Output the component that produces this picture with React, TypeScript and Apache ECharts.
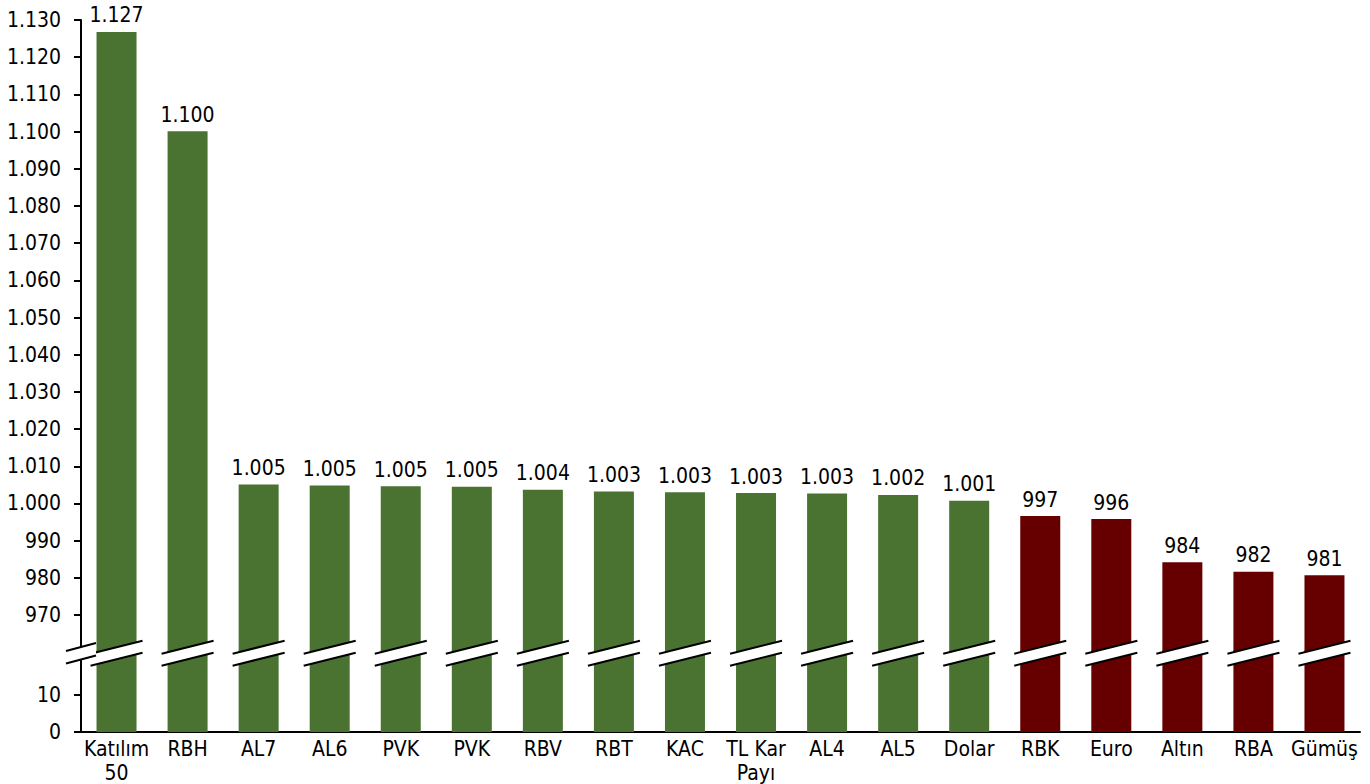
import React, { useEffect, useRef } from "react";
import * as echarts from "echarts";

const categories = [
  "Katılım\n50", "RBH", "AL7", "AL6", "PVK", "PVK", "RBV", "RBT", "KAC",
  "TL Kar\nPayı", "AL4", "AL5", "Dolar", "RBK", "Euro", "Altın", "RBA", "Gümüş",
];
const values = [
  1126.8, 1100.1, 1005.1, 1004.8, 1004.6, 1004.5, 1003.7, 1003.2, 1003.0,
  1002.8, 1002.7, 1002.3, 1000.7, 996.6, 995.8, 984.2, 981.6, 980.7,
];
// upper segment of the broken axis
const upperMin = 960;
const upperMax = 1130;
// lower segment of the broken axis
const lowerMin = 0;
const lowerMax = 22;
const lowerLabelMax = 10;
const tickStep = 10;

const GREEN = "#4a7332";
const RED = "#660000";
const FONT = "'DejaVu Sans Condensed', 'DejaVu Sans', sans-serif";
const FS = 21;

const fmt = (v: number) => {
  const n = Math.round(v);
  if (n >= 1000) {
    return Math.floor(n / 1000) + "." + String(n % 1000).padStart(3, "0");
  }
  return String(n);
};

export default function App() {
  const ref = useRef<HTMLDivElement>(null);
  useEffect(() => {
    document.body.style.margin = "0";
    if (!ref.current) return;
    const chart = echarts.init(ref.current, null, { renderer: "svg" });
    const barData = values.map((v) => ({
      value: v,
      itemStyle: { color: v >= 1000 ? GREEN : RED },
    }));
    const axisLine = { show: true, lineStyle: { color: "#000", width: 2 } };
    const mark = (x: number, cy: number, w: number, h: number, gap: number) => [
      {
        type: "polygon",
        shape: {
          points: [
            [x - w, cy - gap + h],
            [x + w, cy - gap - h],
            [x + w, cy + gap - h],
            [x - w, cy + gap + h],
          ],
        },
        style: { fill: "#fff" },
      },
      {
        type: "line",
        shape: { x1: x - w, y1: cy - gap + h, x2: x + w, y2: cy - gap - h },
        style: { stroke: "#000", lineWidth: 2 },
      },
      {
        type: "line",
        shape: { x1: x - w, y1: cy + gap + h, x2: x + w, y2: cy + gap - h },
        style: { stroke: "#000", lineWidth: 2 },
      },
    ];
    chart.setOption({
      animation: false,
      textStyle: { fontFamily: FONT },
      grid: [
        { left: 81, right: 10, top: 20, bottom: 131.8, outerBoundsMode: "none" },
        { left: 81, right: 10, top: 650.2, bottom: 52, outerBoundsMode: "none" },
      ],
      xAxis: [
        {
          type: "category",
          gridIndex: 0,
          data: categories,
          show: false,
        },
        {
          type: "category",
          gridIndex: 1,
          data: categories,
          axisLine: axisLine,
          axisTick: { show: false },
          axisLabel: {
            color: "#000",
            fontSize: FS,
            lineHeight: 24,
            margin: 5,
            interval: 0,
            fontFamily: FONT,
          },
        },
      ],
      yAxis: [
        {
          type: "value",
          gridIndex: 0,
          min: upperMin,
          max: upperMax,
          interval: tickStep,
          axisLine: axisLine,
          axisTick: { show: true, length: 7, lineStyle: { color: "#000", width: 2 } },
          splitLine: { show: false },
          axisLabel: {
            color: "#000",
            fontSize: FS,
            margin: 20,
            fontFamily: FONT,
            formatter: (v: number) => (v === upperMin ? "" : fmt(v)),
          },
        },
        {
          type: "value",
          gridIndex: 1,
          min: lowerMin,
          max: lowerMax,
          interval: tickStep,
          axisLine: axisLine,
          axisTick: { show: true, length: 7, lineStyle: { color: "#000", width: 2 } },
          splitLine: { show: false },
          axisLabel: {
            color: "#000",
            fontSize: FS,
            margin: 20,
            fontFamily: FONT,
            formatter: (v: number) => (v <= lowerLabelMax ? fmt(v) : ""),
          },
        },
      ],
      series: [
        {
          type: "bar",
          xAxisIndex: 0,
          yAxisIndex: 0,
          data: barData,
          barWidth: 40,
          clip: true,
          label: {
            show: true,
            position: "top",
            distance: 6,
            color: "#000",
            fontSize: FS,
            fontFamily: FONT,
            formatter: (p: any) => fmt(p.value),
          },
        },
        {
          type: "bar",
          xAxisIndex: 1,
          yAxisIndex: 1,
          data: barData,
          barWidth: 40,
          clip: true,
        },
        {
          type: "custom",
          xAxisIndex: 0,
          yAxisIndex: 0,
          z: 10,
          clip: false,
          data: categories.map((_, i) => [i, upperMin]),
          renderItem: (params: any, api: any) => {
            const i = api.value(0);
            const p = api.coord([i, api.value(1)]);
            const cx = p[0];
            const cy = p[1] + 1;
            const band = api.size([1, 0])[0];
            let children: any[] = mark(cx, cy, 26, 6.5, 6);
            if (i === 0) children = children.concat(mark(cx - band / 2, cy, 15, 4, 6.25));
            return { type: "group", children };
          },
        },
      ],
    });
    return () => chart.dispose();
  }, []);
  return <div ref={ref} style={{ width: 1370, height: 784 }} />;
}
